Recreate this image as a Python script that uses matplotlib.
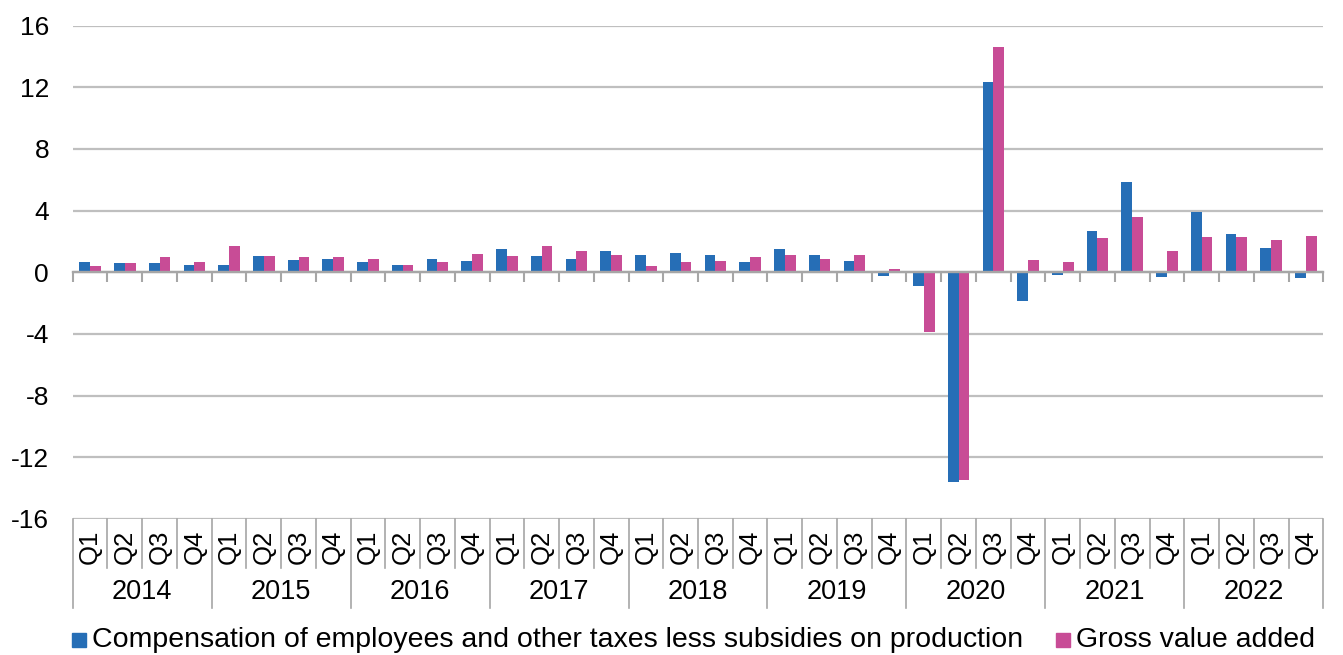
import matplotlib.pyplot as plt
from matplotlib.patches import Rectangle
from matplotlib.transforms import blended_transform_factory

plt.rcParams['font.family'] = ['Liberation Sans', 'DejaVu Sans']

years = ['2014', '2015', '2016', '2017', '2018', '2019', '2020', '2021', '2022']
quarters = ['Q1', 'Q2', 'Q3', 'Q4']

# quarterly growth, %
compensation = [0.65, 0.58, 0.58, 0.50,
                0.50, 1.06, 0.82, 0.89,
                0.65, 0.50, 0.89, 0.74,
                1.54, 1.06, 0.89, 1.39,
                1.15, 1.23, 1.15, 0.65,
                1.54, 1.15, 0.74, -0.22,
                -0.87, -13.6, 12.34, -1.84,
                -0.15, 2.68, 5.84, -0.30,
                3.92, 2.47, 1.56, -0.39]
gva = [0.41, 0.58, 0.97, 0.65,
       1.71, 1.06, 0.97, 0.97,
       0.89, 0.50, 0.65, 1.21,
       1.06, 1.71, 1.39, 1.15,
       0.41, 0.65, 0.74, 0.97,
       1.15, 0.89, 1.15, 0.24,
       -3.90, -13.5, 14.58, 0.82,
       0.67, 2.21, 3.57, 1.38,
       2.27, 2.27, 2.12, 2.36]
legend_labels = ['Compensation of employees and other taxes less subsidies on production',
                 'Gross value added']

blue = '#266eb6'
pink = '#c84c96'
grid_c = '#bfbfbf'
axis_c = '#a6a6a6'

W, H = 1343, 655
fig = plt.figure(figsize=(W / 100, H / 100), dpi=100)
ax = fig.add_axes([72.7 / W, 1 - 519 / H, (1323.3 - 72.7) / W, (519 - 25.6) / H])

n = len(compensation)
x = list(range(n))
bw = 0.31
ax.bar([i - bw / 2 for i in x], compensation, width=bw, color=blue, zorder=3)
ax.bar([i + bw / 2 for i in x], gva, width=bw, color=pink, zorder=3)

ax.set_xlim(-0.5, n - 0.5)
ax.set_ylim(-16, 16)
ax.set_yticks(range(-16, 17, 4))
ax.set_yticklabels([str(v) for v in range(-16, 17, 4)], fontsize=19)
ax.tick_params(axis='y', length=0, pad=17)
ax.yaxis.grid(True, color=grid_c, linewidth=1.6, zorder=0)

for s in ['top', 'right', 'left']:
    ax.spines[s].set_visible(False)
ax.spines['bottom'].set_position(('data', 0))
ax.spines['bottom'].set_color(axis_c)
ax.spines['bottom'].set_linewidth(1.7)
ax.spines['bottom'].set_zorder(4)
ax.set_xticks([i - 0.5 for i in range(n + 1)])
ax.set_xticklabels([])
ax.tick_params(axis='x', direction='out', length=7, width=1.5, color=axis_c)

# multi-level category labels below the plot
tr = blended_transform_factory(ax.transData, fig.transFigure)
def fy(px):
    return 1 - px / H

for b in range(n + 1):
    bottom = 608 if b % 4 == 0 else 568
    ax.plot([b - 0.5, b - 0.5], [fy(519), fy(bottom)], transform=tr,
            color=axis_c, linewidth=1.2, clip_on=False)
for i in x:
    ax.text(i, fy(547), quarters[i % 4], transform=tr, rotation=90,
            ha='center', va='center', fontsize=18.5)
for k, yr in enumerate(years):
    ax.text(4 * k + 1.5, fy(592), yr, transform=tr,
            ha='center', va='center', fontsize=19.5)

# legend
for (lx, tx), col, lab in zip([(71.7, 92), (1056, 1076)], [blue, pink], legend_labels):
    fig.add_artist(Rectangle((lx / W, fy(647)), 14 / W, 14 / H,
                             transform=fig.transFigure, color=col))
    fig.text(tx / W, fy(640), lab, ha='left', va='center', fontsize=20.5)

fig.savefig('out.png', dpi=100)
